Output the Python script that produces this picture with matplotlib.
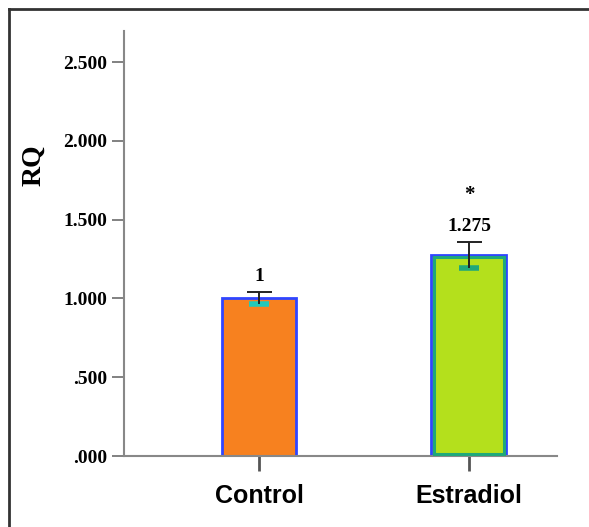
import matplotlib.pyplot as plt
from matplotlib.lines import Line2D

# data
groups = ["Control", "Estradiol"]
rq_mean = [1.0, 1.275]
err_low = [0.965, 1.19]
err_high = [1.04, 1.358]
value_labels = ["1", "1.275"]
signif = ["", "*"]
y_ticks = [0.0, 0.5, 1.0, 1.5, 2.0, 2.5]
y_tick_labels = [".000", ".500", "1.000", "1.500", "2.000", "2.500"]

bar_colors = ["#f7811f", "#b4e01c"]
inner_edges = [None, "#1fa87a"]
cap_colors = ["#22c9b8", "#1fa87a"]

serif = ["Liberation Serif", "DejaVu Serif"]
sans = ["Liberation Sans", "DejaVu Sans"]

fig = plt.figure(figsize=(5.89, 5.27), dpi=100)
ax = fig.add_axes([0.2105, 0.1347, 0.7351, 0.8065])

x = list(range(len(groups)))
w = 0.357

ax.bar(x, rq_mean, width=w, color=bar_colors, edgecolor="#2f45ff", linewidth=2, zorder=2)
for i in x:
    if inner_edges[i]:
        ax.bar(i, rq_mean[i] - 0.02, bottom=0.01, width=w - 0.025, color="none",
               edgecolor=inner_edges[i], linewidth=2.2, zorder=3)

for i in x:
    yerr = [[rq_mean[i] - err_low[i]], [err_high[i] - rq_mean[i]]]
    _, caps, _ = ax.errorbar(i, rq_mean[i], yerr=yerr, fmt="none", ecolor="#222222",
                             elinewidth=1.4, capsize=9, capthick=1.4, zorder=4)
    # lower cap shows as a small teal block in the original
    low_cap = caps[0]
    low_cap.set_markeredgecolor(cap_colors[i])
    low_cap.set_markersize(15)
    low_cap.set_markeredgewidth(4)
    low_cap.set_zorder(3.5)
    ax.text(i, err_high[i] + 0.1, value_labels[i], ha="center", va="center",
            fontsize=14, fontweight="bold", family=serif)
    if signif[i]:
        ax.text(i, err_high[i] + 0.3, signif[i], ha="center", va="center",
                fontsize=15, fontweight="bold", family=serif)

ax.set_xlim(-0.643, 1.419)
ax.set_ylim(0, 2.697)
ax.set_xticks(x)
ax.set_xticklabels(groups, fontsize=18, fontweight="bold", family=sans)
ax.set_yticks(y_ticks)
ax.set_yticklabels(y_tick_labels, fontsize=14, fontweight="bold", family=serif)

ax.tick_params(axis="y", length=9, width=1.3, color="#777777", pad=3)
ax.tick_params(axis="x", length=11, width=2, color="#555555", pad=9)
for side in ["top", "right"]:
    ax.spines[side].set_visible(False)
for side in ["left", "bottom"]:
    ax.spines[side].set_color("#888888")
    ax.spines[side].set_linewidth(1.5)

fig.text(34 / 589, 1 - 165 / 527, "RQ", rotation=90, ha="center", va="center",
         fontsize=20, fontweight="bold", family=serif)

# outer frame (left and top edges visible)
fig.add_artist(Line2D([0.0153, 0.0153], [0, 0.983], color="#333333", lw=2))
fig.add_artist(Line2D([0.0153, 1], [0.983, 0.983], color="#333333", lw=2))

fig.savefig("out.png", dpi=100)
